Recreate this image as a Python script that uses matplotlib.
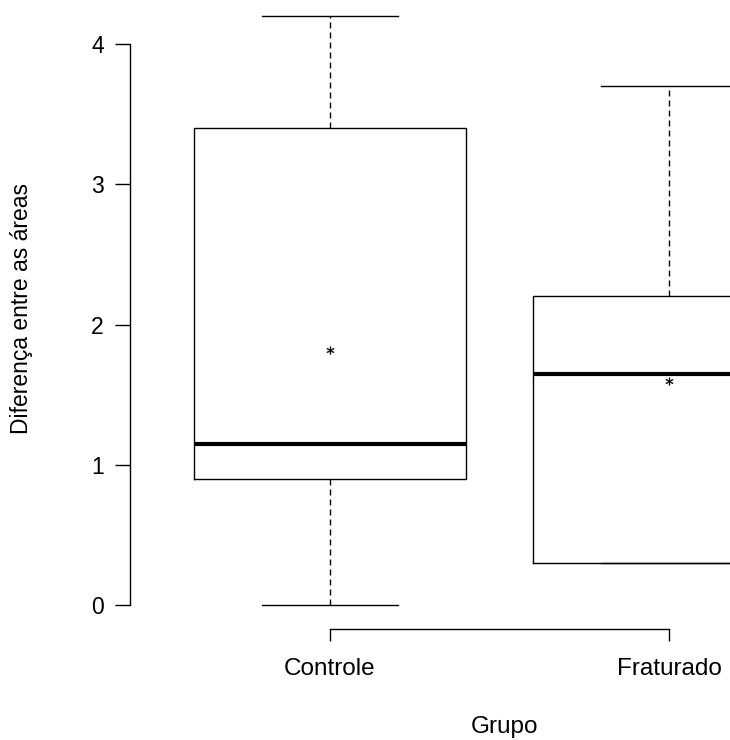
import matplotlib.pyplot as plt

plt.rcParams['font.family'] = ['Liberation Sans', 'DejaVu Sans']

grupos = ['Controle', 'Fraturado']
minimos = [0.0, 0.3]
q1 = [0.9, 0.3]
medianas = [1.15, 1.65]
q3 = [3.4, 2.2]
maximos = [4.2, 3.7]
medias = [1.82, 1.6]

stats = []
for i, g in enumerate(grupos):
    stats.append({'label': g, 'whislo': minimos[i], 'q1': q1[i], 'med': medianas[i],
                  'q3': q3[i], 'whishi': maximos[i], 'fliers': []})

fig = plt.figure(figsize=(7.3, 7.4), dpi=100)
ax = fig.add_axes([130 / 730, 95 / 740, 600 / 730, 645 / 740])

pos = [1, 2]
ax.bxp(stats, positions=pos, widths=0.8, showfliers=False,
       boxprops=dict(color='black', linewidth=1.0),
       whiskerprops=dict(color='black', linewidth=1.0, linestyle=(0, (4.3, 2.9))),
       capprops=dict(color='black', linewidth=1.0),
       medianprops=dict(color='black', linewidth=3.0, solid_capstyle='butt'),
       capwidths=0.4)

# média de cada grupo marcada com asterisco
ax.plot(pos, medias, linestyle='none', marker='$*$', markersize=5.5,
        markeredgewidth=0.3, color='black')

ax.set_xlim(0.41, 2.18)
ax.set_ylim(-0.285, 4.314)

ax.spines['top'].set_visible(False)
ax.spines['right'].set_visible(False)
ax.spines['left'].set_bounds(0, 4)
ax.spines['bottom'].set_position(('data', -0.171))
ax.spines['bottom'].set_bounds(1, 2)
for s in ['left', 'bottom']:
    ax.spines[s].set_linewidth(1.0)

fs = 16.5
ax.set_yticks([0, 1, 2, 3, 4])
ax.set_xticks(pos)
ax.set_xticklabels(grupos, fontsize=17.5)
ax.tick_params(axis='y', direction='out', length=10.8, width=1.0, pad=8, labelsize=fs)
ax.tick_params(axis='x', direction='out', length=8.6, width=1.0, pad=12)

fig.text(22 / 730, 1 - 308 / 740, 'Diferença entre as áreas', rotation=90,
         ha='center', va='center', fontsize=fs)
fig.text(505 / 730, 1 - 727 / 740, 'Grupo', ha='center', va='center', fontsize=17.5)

fig.savefig('out.png', dpi=100)
